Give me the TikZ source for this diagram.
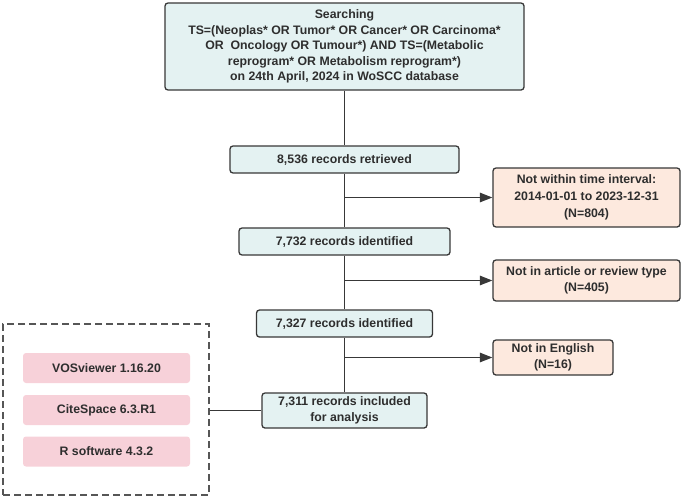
\documentclass[tikz,border=0pt]{standalone}
\usepackage{fontspec}
\setmainfont{Liberation Sans}
\usetikzlibrary{arrows.meta}
\definecolor{txt}{HTML}{2E2E2E}
\definecolor{edge}{HTML}{383838}
\definecolor{bluefill}{HTML}{E4F2F2}
\definecolor{peach}{HTML}{FDE9DE}
\definecolor{pinkfill}{HTML}{F7D1D9}
\tikzset{
  base/.style={font=\fontsize{12.3}{15.4}\selectfont\bfseries, text=txt, align=center, inner sep=0pt, rounded corners=3pt},
  mainbox/.style={base, draw=edge, line width=1.3pt, fill=bluefill},
  exbox/.style={base, draw=edge, line width=1.3pt, fill=peach},
  toolbox/.style={base, fill=pinkfill, minimum width=167pt, minimum height=30pt},
  link/.style={draw=edge, line width=1.3pt},
  arr/.style={link, -{Triangle[length=12.5pt,width=9.5pt]}},
}
\begin{document}
\begin{tikzpicture}[x=1pt,y=-1pt]
\useasboundingbox (0,0) rectangle (682,498);
\node[mainbox, minimum width=359pt, minimum height=87pt] (top) at (344.5,46.5)
  {Searching\\TS=(Neoplas* OR Tumor* OR Cancer* OR Carcinoma*\\OR\ \ Oncology OR Tumour*) AND TS=(Metabolic\\reprogram* OR Metabolism reprogram*)\\on 24th April, 2024 in WoSCC database};
\node[mainbox, minimum width=229pt, minimum height=27pt] (b2) at (344.5,159.5) {8,536 records retrieved};
\node[mainbox, minimum width=211pt, minimum height=27pt] (b3) at (344.5,241.5) {7,732 records identified};
\node[mainbox, minimum width=176pt, minimum height=27pt] (b4) at (344.5,323.5) {7,327 records identified};
\node[mainbox, minimum width=165pt, minimum height=35pt] (b5) at (344.5,410.5) {7,311 records included\\for analysis};
\node[exbox, minimum width=187pt, minimum height=59pt, font=\fontsize{12.3}{16.8}\selectfont\bfseries] (r1) at (586.5,197.5)
  {Not within time interval:\\2014-01-01 to 2023-12-31\\(N=804)};
\node[exbox, minimum width=187pt, minimum height=41pt] (r2) at (586.5,280.5) {Not in article or review type\\(N=405)};
\node[exbox, minimum width=120pt, minimum height=35pt] (r3) at (553,357.5) {Not in English\\(N=16)};
\node[draw=edge!85, line width=1.3pt, dash pattern=on 7pt off 4pt, minimum width=206pt, minimum height=171pt, inner sep=0pt] (grp) at (106,409.5) {};
\node[toolbox] (t1) at (106.5,368) {VOSviewer 1.16.20};
\node[toolbox] (t2) at (106.5,410) {CiteSpace 6.3.R1};
\node[toolbox] (t3) at (106.5,451.5) {R software 4.3.2};
\draw[link] (top.south) -- (b2.north);
\draw[link] (b2.south) -- (b3.north);
\draw[link] (b3.south) -- (b4.north);
\draw[link] (b4.south) -- (b5.north);
\draw[arr] (b2.south |- r1.west) -- (r1.west);
\draw[arr] (b3.south |- r2.west) -- (r2.west);
\draw[arr] (b4.south |- r3.west) -- (r3.west);
\draw[link] (grp.east |- b5.west) -- (b5.west);
\end{tikzpicture}
\end{document}
